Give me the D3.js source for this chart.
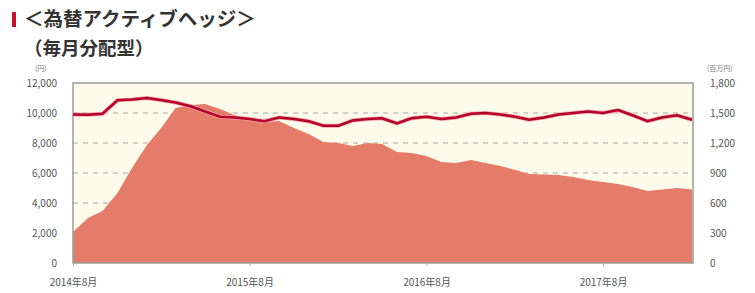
<!DOCTYPE html>
<html>
<head>
<meta charset="utf-8">
<script src="https://cdn.jsdelivr.net/npm/d3@7"></script>
<style>
  body { margin: 0; background: #fff; }
  text { font-family: "Noto Sans CJK JP", "Noto Sans", sans-serif; }
</style>
</head>
<body>
<div id="viz"></div>
<script>
// monthly points, 2014-08 .. 2018-02
const startMonth = new Date(2014, 7, 1);

// 基準価額 (円), left axis
const navValues = [
  9900, 9880, 9950, 10850, 10900, 11000, 10850, 10700, 10450, 10100,
  9750, 9700, 9600, 9450, 9700, 9600, 9450, 9150, 9150, 9500,
  9600, 9650, 9300, 9650, 9750, 9600, 9700, 9950, 10000, 9900,
  9750, 9550, 9700, 9900, 10000, 10100, 10000, 10200, 9850, 9450,
  9700, 9850, 9550
];

// 純資産総額 (百万円), right axis
const assetValues = [
  310, 450, 520, 700, 950, 1180, 1360, 1550, 1580, 1590,
  1540, 1480, 1440, 1410, 1420, 1350, 1290, 1210, 1200, 1170,
  1200, 1190, 1110, 1100, 1070, 1010, 1000, 1030, 1000, 970,
  930, 890, 885, 880, 860, 830, 810, 790, 760, 720,
  735, 750, 735
];

const leftTicks = [0, 2000, 4000, 6000, 8000, 10000, 12000];
const rightTicks = [0, 300, 600, 900, 1200, 1500, 1800];
const xTickDates = [new Date(2014, 7, 1), new Date(2015, 7, 1), new Date(2016, 7, 1), new Date(2017, 7, 1)];

const dates = navValues.map((d, i) => d3.timeMonth.offset(startMonth, i));

const width = 755;
const height = 293;
const plot = { left: 73, right: 693, top: 83, bottom: 263 };

const svg = d3.select('#viz')
  .append('svg')
  .attr('width', width)
  .attr('height', height);

// title
svg.append('rect')
  .attr('x', 12).attr('y', 12)
  .attr('width', 4).attr('height', 15)
  .attr('fill', '#c8102e');

svg.append('text')
  .attr('x', 24).attr('y', 26)
  .attr('font-size', 19.5)
  .attr('font-weight', 'bold')
  .attr('fill', '#333')
  .text('＜為替アクティブヘッジ＞');

svg.append('text')
  .attr('x', 24).attr('y', 55)
  .attr('font-size', 18.5)
  .attr('font-weight', 'bold')
  .attr('fill', '#333')
  .text('（毎月分配型）');

const x = d3.scaleTime()
  .domain([startMonth, d3.timeMonth.offset(startMonth, 42)])
  .range([plot.left, plot.right - 1]);

const yLeft = d3.scaleLinear().domain([0, 12000]).range([plot.bottom, plot.top]);
const yRight = d3.scaleLinear().domain([0, 1800]).range([plot.bottom, plot.top]);

// plot background
svg.append('rect')
  .attr('x', plot.left).attr('y', plot.top)
  .attr('width', plot.right - plot.left)
  .attr('height', plot.bottom - plot.top)
  .attr('fill', '#fffbea');

// dashed grid
svg.selectAll('.grid')
  .data(leftTicks.filter(d => d > 0 && d < 12000))
  .enter()
  .append('line')
  .attr('x1', plot.left).attr('x2', plot.right)
  .attr('y1', d => yLeft(d)).attr('y2', d => yLeft(d))
  .attr('stroke', '#a8a89a')
  .attr('stroke-width', 1)
  .attr('stroke-dasharray', '5,5');

// net assets area
const area = d3.area()
  .x((d, i) => x(dates[i]))
  .y0(plot.bottom)
  .y1(d => yRight(d));

svg.append('path')
  .datum(assetValues)
  .attr('d', area)
  .attr('fill', '#e57c69');

// plot border
svg.append('rect')
  .attr('x', plot.left).attr('y', plot.top)
  .attr('width', plot.right - plot.left)
  .attr('height', plot.bottom - plot.top)
  .attr('fill', 'none')
  .attr('stroke', '#9a9a9a')
  .attr('stroke-width', 1.5);

// nav line
const line = d3.line()
  .x((d, i) => x(dates[i]))
  .y(d => yLeft(d));

svg.append('path')
  .datum(navValues)
  .attr('d', line)
  .attr('fill', 'none')
  .attr('stroke', '#f3a0a8')
  .attr('stroke-width', 4);

svg.append('path')
  .datum(navValues)
  .attr('d', line)
  .attr('fill', 'none')
  .attr('stroke', '#b5002a')
  .attr('stroke-width', 2.5);

// axes
const leftAxis = svg.append('g')
  .attr('transform', `translate(${plot.left - 16},0)`)
  .call(d3.axisLeft(yLeft).tickValues(leftTicks).tickSize(0).tickFormat(d3.format(',')));

const rightAxis = svg.append('g')
  .attr('transform', `translate(${plot.right + 17},0)`)
  .call(d3.axisRight(yRight).tickValues(rightTicks).tickSize(0).tickFormat(d3.format(',')));

const bottomAxis = svg.append('g')
  .attr('transform', `translate(0,${plot.bottom})`)
  .call(d3.axisBottom(x).tickValues(xTickDates).tickSize(3)
    .tickFormat(d => `${d.getFullYear()}年${d.getMonth() + 1}月`));

[leftAxis, rightAxis, bottomAxis].forEach(g => {
  g.select('.domain').remove();
  g.selectAll('text')
    .attr('font-size', 10)
    .attr('fill', '#555')
    .style('font-family', '"Noto Sans CJK JP", sans-serif');
});
leftAxis.selectAll('text').attr('x', 0);
rightAxis.selectAll('text').attr('x', 0);
bottomAxis.selectAll('line').attr('stroke', '#b0b0b0');
bottomAxis.selectAll('text').attr('y', 16);

// unit labels
svg.append('text')
  .attr('x', 35).attr('y', 71)
  .attr('font-size', 7)
  .attr('fill', '#777')
  .text('(円)');

svg.append('text')
  .attr('x', 707).attr('y', 71)
  .attr('font-size', 7)
  .attr('fill', '#777')
  .text('(百万円)');
</script>
</body>
</html>
